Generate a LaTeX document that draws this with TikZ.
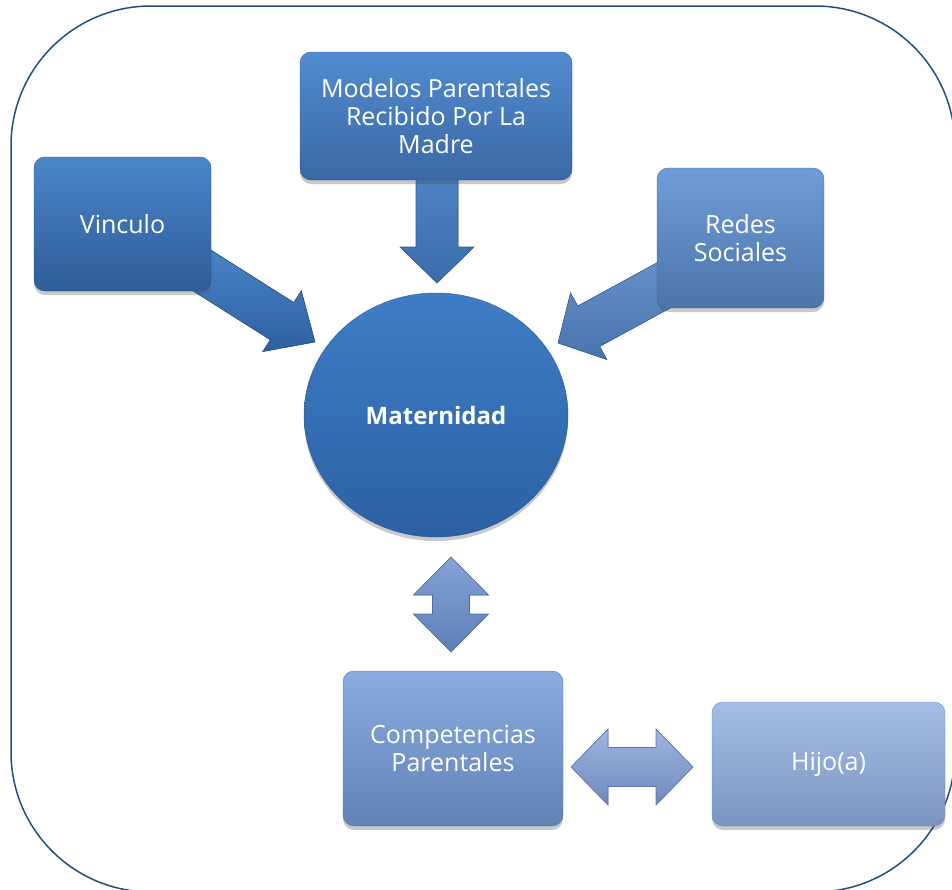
\documentclass[tikz,border=0pt]{standalone}
\usepackage{fontspec}
\setmainfont{Open Sans}
\usetikzlibrary{calc,shapes.geometric,shadows}
\definecolor{frameblue}{HTML}{1F4E85}
\definecolor{vaT}{HTML}{4A86C9}\definecolor{vaB}{HTML}{2E60A0}
\definecolor{maT}{HTML}{5289CB}\definecolor{maB}{HTML}{3A6CAA}
\definecolor{raT}{HTML}{6993CC}\definecolor{raB}{HTML}{4873AD}
\definecolor{daT}{HTML}{84A4D8}\definecolor{daB}{HTML}{5E7FB6}
\definecolor{haT}{HTML}{9DB6E2}\definecolor{haB}{HTML}{7088BE}
\definecolor{vinT}{RGB}{74,134,202}\definecolor{vinB}{RGB}{46,92,152}\definecolor{vinD}{RGB}{40,80,135}
\definecolor{modT}{RGB}{82,140,208}\definecolor{modB}{RGB}{58,104,164}\definecolor{modD}{RGB}{50,92,145}
\definecolor{redT}{RGB}{112,157,216}\definecolor{redB}{RGB}{76,116,170}\definecolor{redD}{RGB}{70,105,155}
\definecolor{matT}{RGB}{62,125,198}\definecolor{matB}{RGB}{44,96,162}\definecolor{matD}{RGB}{40,85,145}
\definecolor{comT}{RGB}{138,172,224}\definecolor{comB}{RGB}{98,130,182}\definecolor{comD}{RGB}{88,115,160}
\definecolor{hijT}{RGB}{164,190,230}\definecolor{hijB}{RGB}{124,148,194}\definecolor{hijD}{RGB}{110,132,172}
\newcommand\blockarrow[7]{%
  \coordinate (ba-base) at ($(#2)!#5!(#1)$);
  \fill[top color=#6,bottom color=#7,draw=#7!85!black,line width=0.6pt]
    ($(#1)!#3!90:(#2)$) -- ($(ba-base)!#3!90:(#2)$) -- ($(ba-base)!#4!90:(#2)$) -- (#2)
    -- ($(ba-base)!#4!-90:(#2)$) -- ($(ba-base)!#3!-90:(#2)$) -- ($(#1)!#3!-90:(#2)$) -- cycle;
}
\newcommand\dblarrow[7]{%
  \coordinate (da-b1) at ($(#1)!#5!(#2)$);
  \coordinate (da-b2) at ($(#2)!#5!(#1)$);
  \fill[top color=#6,bottom color=#7,draw=#7!85!black,line width=0.6pt]
    (#1) -- ($(da-b1)!#4!90:(#2)$) -- ($(da-b1)!#3!90:(#2)$) -- ($(da-b2)!#3!-90:(#1)$)
    -- ($(da-b2)!#4!-90:(#1)$) -- (#2) -- ($(da-b2)!#4!90:(#1)$) -- ($(da-b2)!#3!90:(#1)$)
    -- ($(da-b1)!#3!-90:(#2)$) -- ($(da-b1)!#4!-90:(#2)$) -- cycle;
}
\tikzset{
  box/.style={rectangle,rounded corners=11pt,inner sep=4pt,align=center,text=white,
    font=\fontsize{25}{28}\selectfont,
    drop shadow={shadow xshift=0pt,shadow yshift=-4pt,opacity=0.3,fill=black!70}},
}
\begin{document}
\begin{tikzpicture}[x=1pt,y=-1pt]
\useasboundingbox (0,0) rectangle (952,889);
\begin{scope}
\clip (0,0) rectangle (952,889);
\draw[frameblue,line width=1.5pt,rounded corners=140pt] (11,6) rectangle (955,892);
\end{scope}
% named end points of the block arrows
\coordinate (vtail) at (187,261);
\coordinate (vtip) at (315,342);
\coordinate (mtail) at (437,150);
\coordinate (mtip) at (437,283);
\coordinate (rtail) at (690,271);
\coordinate (rtip) at (558,343);
\coordinate (dtop) at (451,557);
\coordinate (dbot) at (451,652);
\coordinate (hleft) at (571,767);
\coordinate (hright) at (693,767);
% arrows
\blockarrow{vtail}{vtip}{22pt}{36pt}{39pt}{vaT}{vaB}
\blockarrow{mtail}{mtip}{21pt}{37pt}{36pt}{maT}{maB}
\blockarrow{rtail}{rtip}{23pt}{38pt}{35pt}{raT}{raB}
\dblarrow{dtop}{dbot}{18.5pt}{37.5pt}{38pt}{daT}{daB}
\dblarrow{hleft}{hright}{19.5pt}{38pt}{37pt}{haT}{haB}
% boxes
\node[box,minimum width=177pt,minimum height=134pt,top color=vinT,bottom color=vinB,draw=vinD] (vin) at (122.5,224) {Vinculo};
\node[box,minimum width=272pt,minimum height=128pt,top color=modT,bottom color=modB,draw=modD] (mod) at (436,116) {Modelos Parentales\\Recibido Por La\\Madre};
\node[box,minimum width=167pt,minimum height=140pt,top color=redT,bottom color=redB,draw=redD] (red) at (740.5,238) {Redes\\Sociales};
\node[ellipse,minimum width=264pt,minimum height=244pt,inner sep=0pt,text=white,
  font=\fontsize{24}{28}\selectfont\bfseries,
  top color=matT,bottom color=matB,draw=matD,
  drop shadow={shadow xshift=0pt,shadow yshift=-4pt,opacity=0.3,fill=black!70}] (mat) at (436,415) {Maternidad};
\node[box,minimum width=220pt,minimum height=155pt,top color=comT,bottom color=comB,draw=comD] (comp) at (453,748.5) {Competencias\\Parentales};
\node[box,minimum width=233pt,minimum height=124pt,top color=hijT,bottom color=hijB,draw=hijD] (hijo) at (828.5,764) {Hijo(a)};
\end{tikzpicture}
\end{document}
